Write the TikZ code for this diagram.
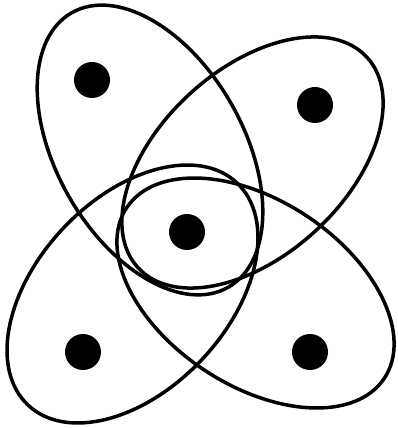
\documentclass[tikz,border=0pt]{standalone}
\usepackage{tikz}
\usetikzlibrary{shapes.geometric}

\begin{document}
\begin{tikzpicture}[x=1pt, y=1pt,
    petal/.style={draw, ellipse, line width=3.5pt, inner sep=0pt, outer sep=0pt},
    dot/.style={circle, fill, minimum size=36pt, inner sep=0pt}]
    \useasboundingbox (0,0) rectangle (397,428);

    \node[petal, rotate=-60.3, minimum width=316pt, minimum height=187pt] (tl) at (150,278) {};
    \node[petal, rotate=42.6, minimum width=311pt, minimum height=186pt] (tr) at (252.5,265.5) {};
    \node[petal, rotate=46.8, minimum width=305pt, minimum height=191pt] (bl) at (132.5,134) {};
    \node[petal, rotate=-33.5, minimum width=309pt, minimum height=185pt] (br) at (255.5,135) {};

    \node[dot] (a) at (92,348) {};
    \node[dot] (b) at (315,323) {};
    \node[dot] (c) at (187,196) {};
    \node[dot] (d) at (83,76) {};
    \node[dot] (e) at (310,76) {};
\end{tikzpicture}
\end{document}
